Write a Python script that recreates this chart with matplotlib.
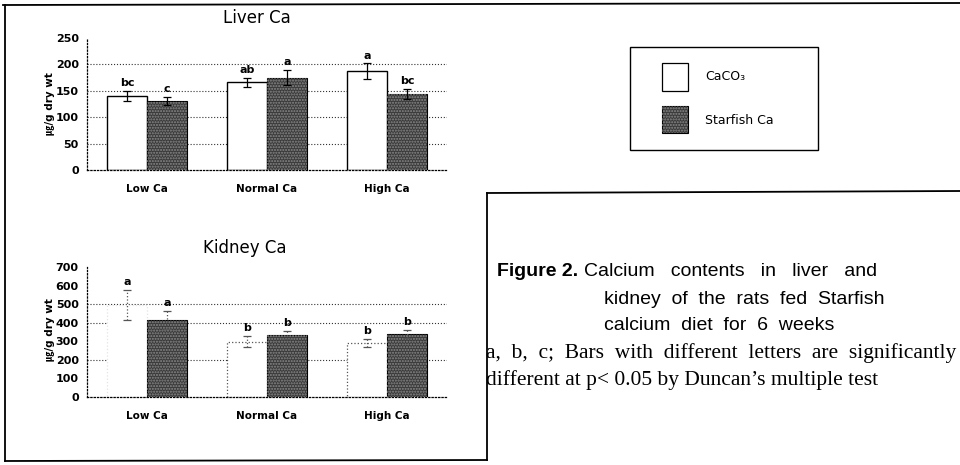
import numpy as np
import matplotlib.pyplot as plt
from matplotlib.patches import Rectangle
from matplotlib.lines import Line2D

# data
groups = ["Low Ca", "Normal Ca", "High Ca"]
series = ["CaCO₃", "Starfish Ca"]

liver_caco3 = [140, 166, 187]
liver_caco3_err = [10, 9, 15]
liver_star = [131, 175, 144]
liver_star_err = [8, 14, 10]
liver_caco3_lab = ["bc", "ab", "a"]
liver_star_lab = ["c", "a", "bc"]

kidney_caco3 = [495, 297, 290]
kidney_caco3_err = [83, 30, 22]
kidney_star = [415, 335, 340]
kidney_star_err = [50, 20, 20]
kidney_caco3_lab = ["a", "b", "b"]
kidney_star_lab = ["a", "b", "b"]

liver_ticks = [0, 50, 100, 150, 200, 250]
kidney_ticks = [0, 100, 200, 300, 400, 500, 600, 700]
liver_grid = [50, 100, 150, 200]
kidney_grid = [200, 400, 500]

W, H = 960, 465
DARK = "#3a3a3a"
unit_font = ["DejaVu Sans", "Noto Sans CJK KR"]


def fx(x):
    return x / W


def fy(y):
    return 1 - y / H


def rect(l, t, r, b):
    return [l / W, 1 - b / H, (r - l) / W, (b - t) / H]


fig = plt.figure(figsize=(W / 100, H / 100), dpi=100)


def panel(box, white, white_err, dark, dark_err, wlab, dlab, ticks, grid, faded):
    ax = fig.add_axes(box)
    x = np.arange(len(groups))
    bw = 1 / 3
    if faded:
        ax.bar(x - bw / 2, white, bw, color="white", edgecolor=["#e4e4e4", "#555", "#555"],
               linewidth=0.9, linestyle=":", zorder=2)
    else:
        ax.bar(x - bw / 2, white, bw, color="white", edgecolor="black", linewidth=1.0, zorder=2)
    ax.bar(x + bw / 2, dark, bw, color=DARK, edgecolor="black", linewidth=0.8, zorder=2)
    ax.bar(x + bw / 2, dark, bw, fill=False, hatch="......", edgecolor="#8a8a8a", linewidth=0, zorder=3)
    ecol = "#555" if faded else "black"
    for xs, v, e in [(x - bw / 2, white, white_err), (x + bw / 2, dark, dark_err)]:
        eb = ax.errorbar(xs, v, yerr=e, fmt="none", ecolor=ecol, elinewidth=0.9,
                         capsize=3, capthick=0.9, zorder=4)
        if faded:
            eb[2][0].set_linestyle(":")
    for xs, v, e, labs in [(x - bw / 2, white, white_err, wlab), (x + bw / 2, dark, dark_err, dlab)]:
        for xi, vi, ei, t in zip(xs, v, e, labs):
            ax.annotate(t, (xi, vi + ei), xytext=(0, 2), textcoords="offset points",
                        ha="center", va="bottom", fontsize=8, fontweight="bold")
    for g in grid:
        ax.axhline(g, color="#333", linestyle=":", linewidth=0.8, zorder=1)
    ax.set_xlim(-0.5, 2.5)
    ax.set_ylim(0, ticks[-1])
    ax.set_yticks(ticks)
    ax.set_yticklabels([str(t) for t in ticks], fontsize=8, fontweight="bold")
    ax.set_xticks(x)
    ax.set_xticklabels(groups, fontsize=7.5, fontweight="bold")
    ax.tick_params(axis="both", length=0)
    ax.tick_params(axis="y", pad=6)
    ax.tick_params(axis="x", pad=10)
    for s in ["top", "right"]:
        ax.spines[s].set_visible(False)
    for s in ["left", "bottom"]:
        ax.spines[s].set_linestyle(":")
        ax.spines[s].set_linewidth(0.9)
    ax.patch.set_alpha(0)
    return ax


panel(rect(87, 38, 447, 170), liver_caco3, liver_caco3_err, liver_star, liver_star_err,
      liver_caco3_lab, liver_star_lab, liver_ticks, liver_grid, False)
panel(rect(87, 267, 447, 397), kidney_caco3, kidney_caco3_err, kidney_star, kidney_star_err,
      kidney_caco3_lab, kidney_star_lab, kidney_ticks, kidney_grid, True)

fig.text(fx(257), fy(18), "Liver Ca", ha="center", va="center", fontsize=12)
fig.text(fx(245), fy(248), "Kidney Ca", ha="center", va="center", fontsize=12)
for yy in [104, 330]:
    fig.text(fx(50), fy(yy), "㎍/g dry wt", rotation=90, ha="center", va="center",
             fontsize=7.5, fontweight="bold", family=unit_font)

# legend box
fig.add_artist(Rectangle((fx(630), fy(150)), fx(188), 103 / H, fill=False,
                         edgecolor="black", linewidth=1.0, transform=fig.transFigure))
fig.add_artist(Rectangle((fx(662), fy(91)), fx(26), 28 / H, facecolor="white",
                         edgecolor="black", linewidth=0.9, transform=fig.transFigure))
fig.add_artist(Rectangle((fx(662), fy(133)), fx(26), 27 / H, facecolor=DARK,
                         edgecolor="black", linewidth=0.8, transform=fig.transFigure))
fig.add_artist(Rectangle((fx(662), fy(133)), fx(26), 27 / H, fill=False, hatch="......",
                         edgecolor="#8a8a8a", linewidth=0, transform=fig.transFigure))
fig.text(fx(705), fy(77), series[0], ha="left", va="center", fontsize=9)
fig.text(fx(705), fy(120), series[1], ha="left", va="center", fontsize=9)

# frames
frame = dict(color="black", linewidth=1.3, transform=fig.transFigure)
fig.add_artist(Line2D([fx(3), fx(960)], [fy(5), fy(3)], **frame))
fig.add_artist(Line2D([fx(5), fx(5)], [fy(5), fy(461)], **frame))
fig.add_artist(Line2D([fx(5), fx(487)], [fy(461), fy(460)], **frame))
fig.add_artist(Line2D([fx(487), fx(487)], [fy(193), fy(460)], **frame))
fig.add_artist(Line2D([fx(487), fx(960)], [fy(193), fy(191)], **frame))

# caption
sans = "Liberation Sans"
fig.text(fx(497), fy(272), "Figure 2.", ha="left", va="center", fontsize=14,
         fontweight="bold", family=sans)
fig.text(fx(584), fy(272), "Calcium   contents   in   liver   and", ha="left", va="center",
         fontsize=14, family=sans)
fig.text(fx(604), fy(299), "kidney  of  the  rats  fed  Starfish", ha="left", va="center",
         fontsize=14, family=sans)
fig.text(fx(604), fy(326), "calcium  diet  for  6  weeks", ha="left", va="center",
         fontsize=14, family=sans)
fig.text(fx(486), fy(353), "a,  b,  c;  Bars  with  different  letters  are  significantly",
         ha="left", va="center", fontsize=15.5, family="Liberation Serif")
fig.text(fx(486), fy(380), "different at p< 0.05 by Duncan’s multiple test",
         ha="left", va="center", fontsize=15.5, family="Liberation Serif")

fig.savefig("out.png", dpi=100)
